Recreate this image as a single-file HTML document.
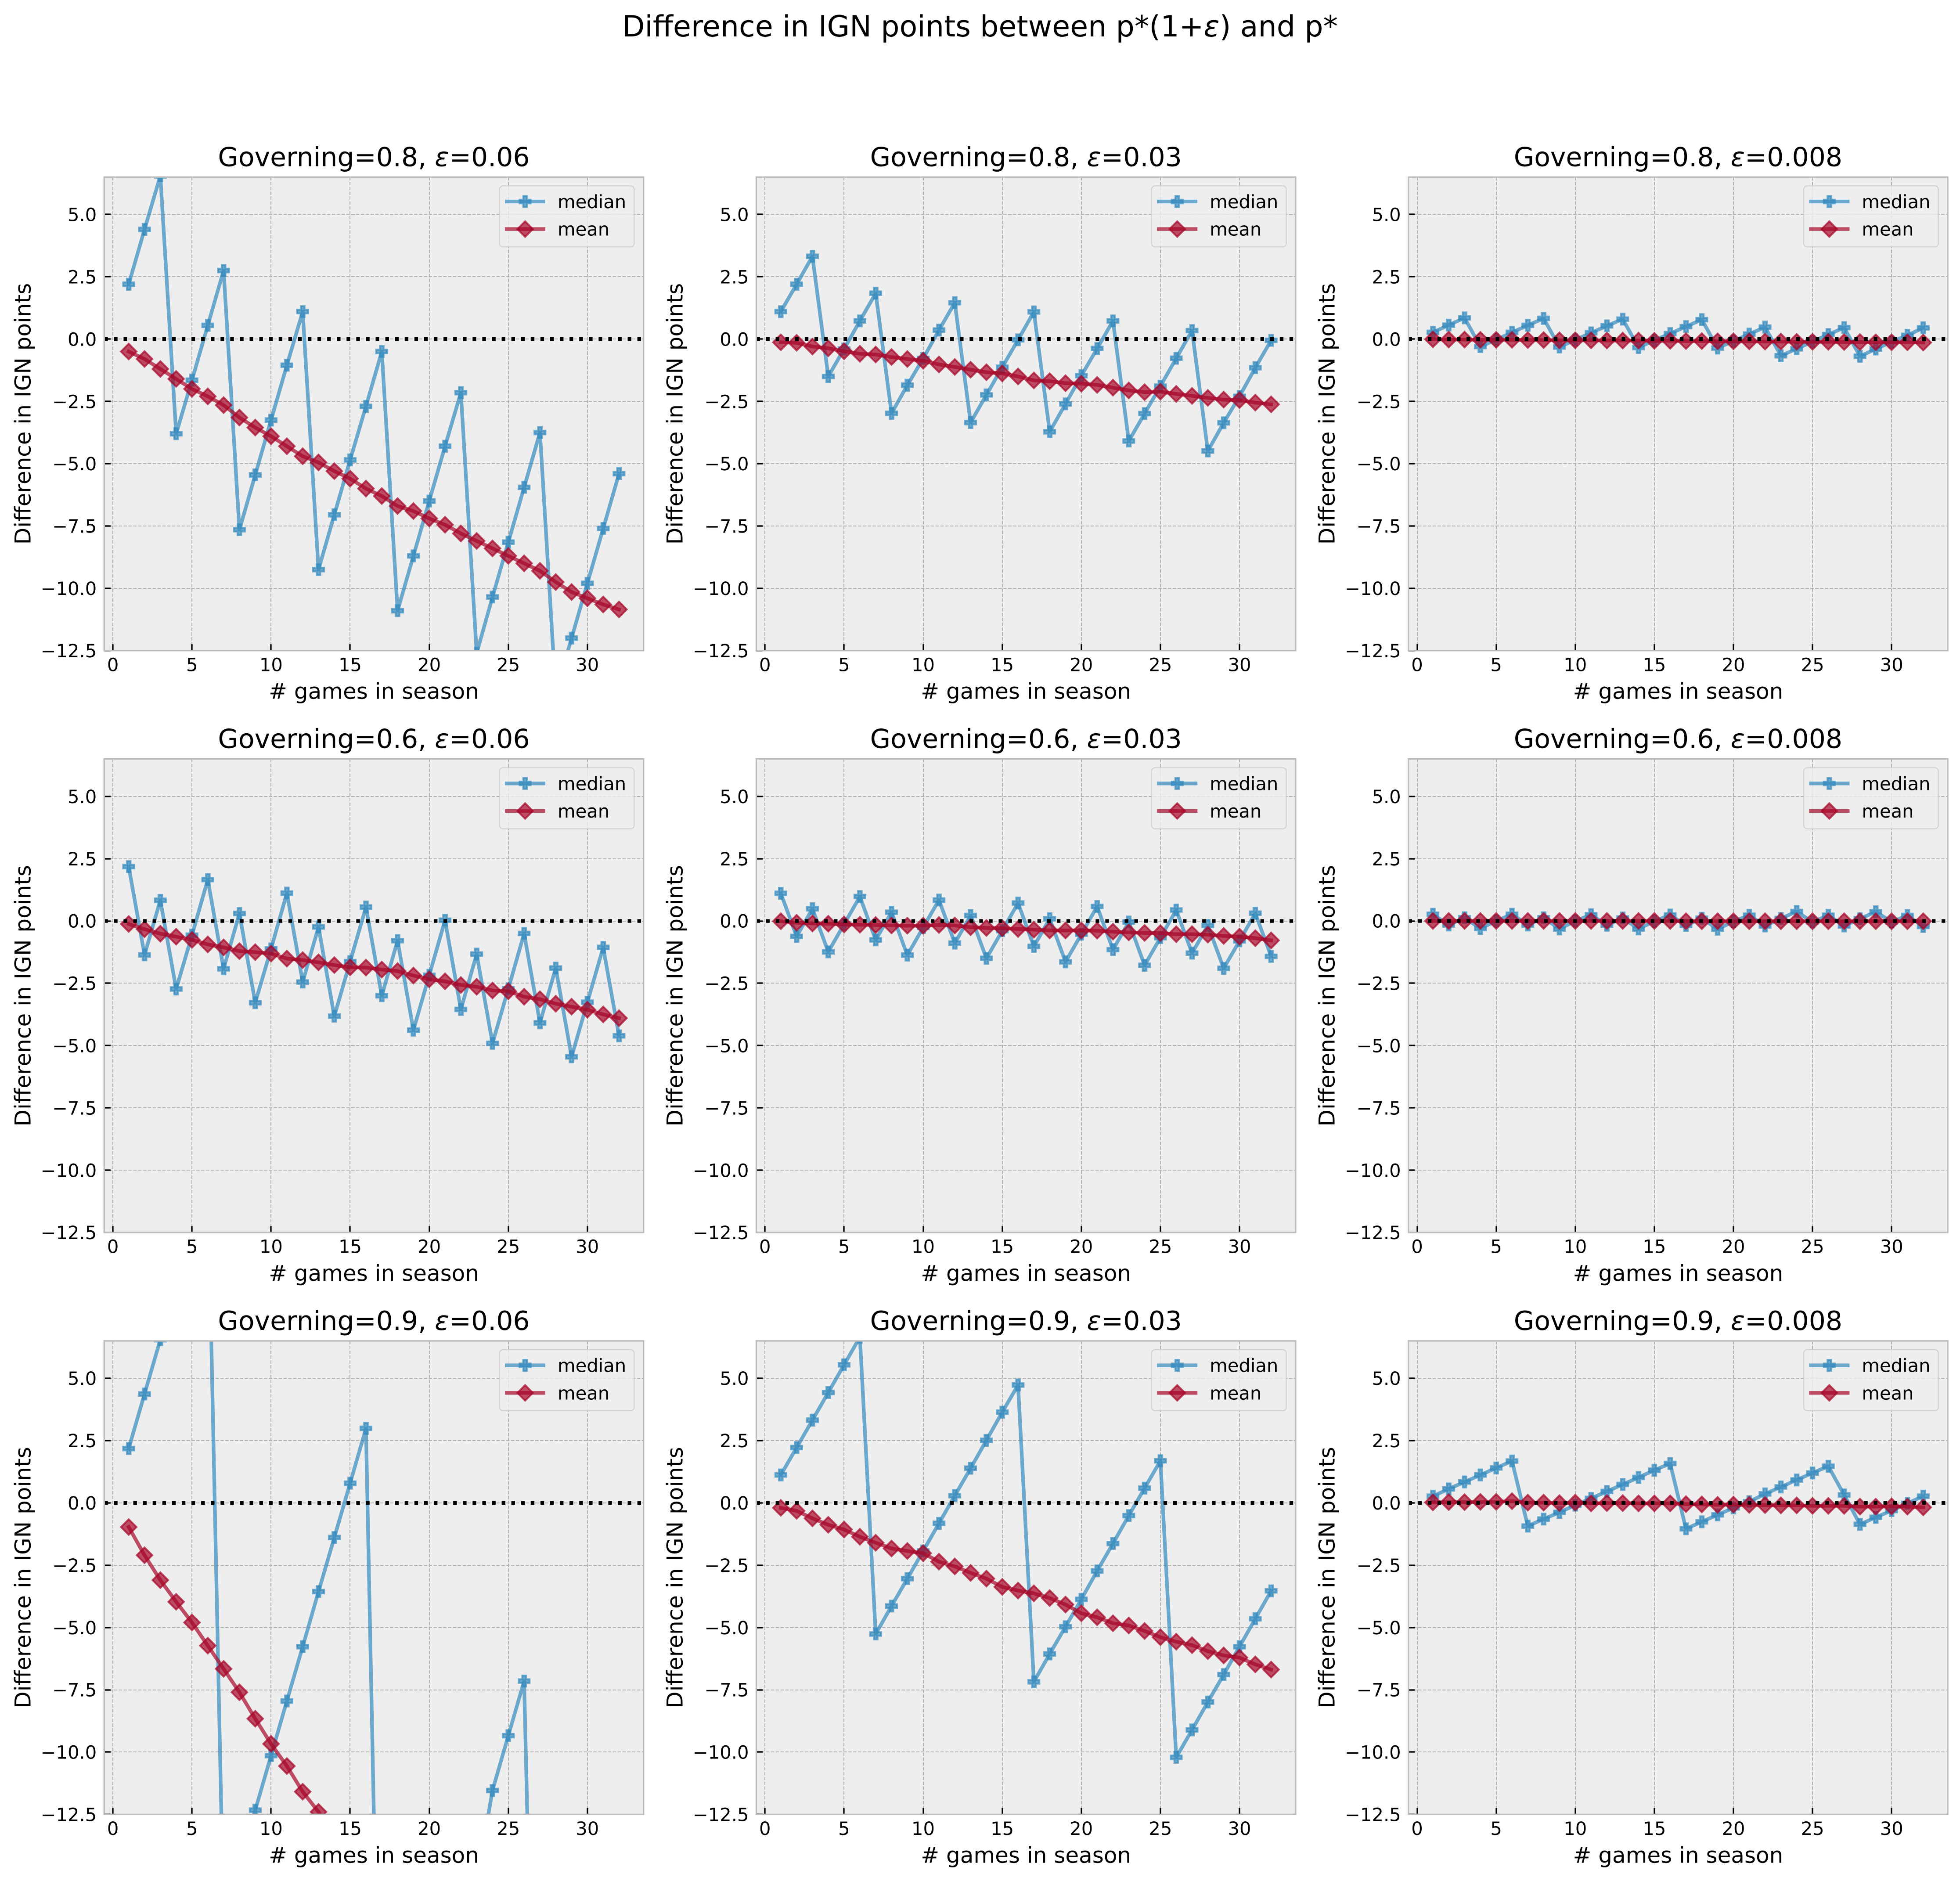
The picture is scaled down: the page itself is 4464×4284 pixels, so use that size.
<!DOCTYPE html>
<html lang="en">
<head>
<meta charset="utf-8">
<title>Difference in IGN points between p*(1+ε) and p*</title>
<style>
  html, body { margin: 0; padding: 0; background: #fff; }
  body { width: 4464px; height: 4284px; overflow: hidden; }
  svg { display: block; }
  text { font-family: "DejaVu Sans", "Liberation Sans", sans-serif; fill: #000; text-rendering: geometricPrecision; }
</style>
</head>
<body>
<svg id="figure" xmlns="http://www.w3.org/2000/svg" width="4464" height="4284" viewBox="0 0 4464 4284">
  <rect x="0" y="0" width="4464" height="4284" fill="#ffffff"></rect>
  <text x="2232" y="83" font-size="66.67" text-anchor="middle">Difference in IGN points between p*(1+<tspan font-style="italic">ε</tspan>) and p*</text>
</svg>
<script>
// ---- categories and ticks ----
const games = [1,2,3,4,5,6,7,8,9,10,11,12,13,14,15,16,17,18,19,20,21,22,23,24,25,26,27,28,29,30,31,32];
const xTicks = [0,5,10,15,20,25,30];
const xTickLabels = ['0','5','10','15','20','25','30'];
const yTicks = [-12.5,-10,-7.5,-5,-2.5,0,2.5,5];
const yTickLabels = ['\u221212.5','\u221210.0','\u22127.5','\u22125.0','\u22122.5','0.0','2.5','5.0'];
const xLimits = [-0.55,33.55];
const yLimits = [-12.5,6.5];
const governingLabels = ['0.8','0.6','0.9'];
const epsilonLabels = ['0.06','0.03','0.008'];
const seriesNames = ['median','mean'];

// ---- Governing=0.8 ----
const median_08_006 = [2.2,4.4,6.55,-3.8,-1.65,0.55,2.75,-7.65,-5.45,-3.25,-1.05,1.1,-9.25,-7.05,-4.85,-2.7,-0.5,-10.9,-8.7,-6.5,-4.3,-2.15,-12.6,-10.35,-8.15,-5.95,-3.75,-14.2,-12.0,-9.8,-7.6,-5.4];
const mean_08_006 = [-0.5,-0.8,-1.2,-1.6,-2.0,-2.3,-2.65,-3.15,-3.55,-3.9,-4.3,-4.7,-4.95,-5.3,-5.6,-6.0,-6.3,-6.7,-6.9,-7.2,-7.45,-7.8,-8.1,-8.4,-8.7,-9.0,-9.3,-9.75,-10.15,-10.4,-10.65,-10.85];
const median_08_003 = [1.1,2.2,3.32,-1.5,-0.4,0.73,1.84,-2.98,-1.85,-0.78,0.36,1.46,-3.35,-2.24,-1.13,-0.03,1.09,-3.72,-2.6,-1.47,-0.38,0.73,-4.09,-2.99,-1.89,-0.77,0.34,-4.49,-3.36,-2.3,-1.15,-0.05];
const mean_08_003 = [-0.13,-0.15,-0.3,-0.37,-0.49,-0.59,-0.62,-0.72,-0.8,-0.87,-1.02,-1.12,-1.23,-1.33,-1.38,-1.5,-1.66,-1.69,-1.77,-1.79,-1.84,-1.95,-2.06,-2.13,-2.11,-2.2,-2.28,-2.36,-2.43,-2.45,-2.55,-2.62];
const median_08_0008 = [0.27,0.56,0.85,-0.3,-0.03,0.27,0.55,0.83,-0.32,-0.03,0.25,0.53,0.8,-0.34,-0.05,0.22,0.5,0.78,-0.36,-0.08,0.2,0.48,-0.67,-0.39,-0.1,0.18,0.46,-0.69,-0.4,-0.11,0.15,0.45];
const mean_08_0008 = [-0.01,-0.02,-0.02,-0.03,-0.03,-0.03,-0.04,-0.04,-0.05,-0.05,-0.05,-0.06,-0.06,-0.06,-0.07,-0.07,-0.08,-0.08,-0.09,-0.09,-0.09,-0.1,-0.1,-0.11,-0.11,-0.11,-0.12,-0.12,-0.13,-0.13,-0.13,-0.14];

// ---- Governing=0.6 ----
const median_06_006 = [2.18,-1.36,0.83,-2.73,-0.57,1.66,-1.92,0.3,-3.28,-1.12,1.12,-2.45,-0.24,-3.82,-1.63,0.56,-3.0,-0.79,-4.38,-2.18,0.03,-3.55,-1.33,-4.91,-2.72,-0.5,-4.09,-1.89,-5.45,-3.26,-1.06,-4.61];
const mean_06_006 = [-0.12,-0.33,-0.51,-0.63,-0.76,-0.94,-1.06,-1.21,-1.25,-1.31,-1.51,-1.57,-1.66,-1.77,-1.86,-1.87,-1.95,-2.01,-2.19,-2.34,-2.42,-2.57,-2.64,-2.79,-2.82,-3.04,-3.14,-3.32,-3.44,-3.56,-3.75,-3.9];
const median_06_003 = [1.11,-0.62,0.49,-1.24,-0.13,0.98,-0.76,0.35,-1.37,-0.26,0.84,-0.89,0.22,-1.5,-0.39,0.72,-1.02,0.09,-1.64,-0.53,0.58,-1.15,-0.04,-1.78,-0.67,0.44,-1.29,-0.18,-1.9,-0.8,0.31,-1.42];
const mean_06_003 = [-0.01,-0.07,-0.1,-0.11,-0.14,-0.15,-0.16,-0.18,-0.19,-0.19,-0.16,-0.18,-0.25,-0.28,-0.29,-0.32,-0.35,-0.38,-0.38,-0.38,-0.39,-0.43,-0.46,-0.48,-0.49,-0.53,-0.53,-0.55,-0.6,-0.63,-0.69,-0.78];
const median_06_0008 = [0.27,-0.16,0.13,-0.3,0.0,0.27,-0.16,0.13,-0.32,0.0,0.25,-0.17,0.12,-0.32,-0.01,0.24,-0.18,0.11,-0.33,-0.02,0.23,-0.2,0.1,0.38,-0.04,0.23,-0.2,0.09,0.37,-0.04,0.22,-0.22];
const mean_06_0008 = [0.0,0.0,0.0,0.0,0.0,0.0,0.0,0.0,0.0,0.0,0.0,0.0,0.0,0.0,0.0,0.0,-0.01,-0.01,-0.01,-0.01,-0.01,-0.01,-0.01,-0.01,-0.01,-0.01,-0.01,-0.01,-0.01,-0.01,-0.01,-0.01];

// ---- Governing=0.9 ----
const median_09_006 = [2.18,4.37,6.55,8.8,11.0,13.2,-16.8,-14.6,-12.33,-10.14,-7.95,-5.77,-3.56,-1.39,0.79,2.99,-28.0,-26.0,-24.0,-21.8,-19.6,-17.4,-15.2,-11.54,-9.34,-7.15,-34.0,-32.0,-30.0,-28.0,-26.0,-24.0];
const mean_09_006 = [-0.97,-2.1,-3.1,-3.97,-4.8,-5.73,-6.66,-7.6,-8.66,-9.67,-10.56,-11.59,-12.4,-13.4,-14.3,-15.2,-16.1,-17.0,-17.9,-18.8,-19.7,-20.6,-21.5,-22.4,-23.3,-24.2,-25.1,-26.0,-26.9,-27.8,-28.7,-29.6];
const median_09_003 = [1.12,2.22,3.32,4.43,5.54,6.65,-5.26,-4.14,-3.04,-1.93,-0.82,0.29,1.39,2.51,3.64,4.73,-7.18,-6.06,-4.97,-3.87,-2.73,-1.63,-0.51,0.59,1.69,-10.21,-9.11,-7.99,-6.89,-5.77,-4.65,-3.53];
const mean_09_003 = [-0.2,-0.32,-0.62,-0.88,-1.07,-1.36,-1.6,-1.83,-1.93,-2.02,-2.36,-2.55,-2.81,-3.04,-3.37,-3.52,-3.63,-3.82,-4.08,-4.43,-4.59,-4.83,-4.92,-5.14,-5.39,-5.57,-5.71,-5.95,-6.12,-6.21,-6.48,-6.69];
const median_09_0008 = [0.27,0.56,0.84,1.12,1.4,1.68,-0.93,-0.65,-0.38,-0.09,0.18,0.46,0.74,1.02,1.31,1.58,-1.04,-0.76,-0.48,-0.2,0.05,0.36,0.64,0.92,1.2,1.47,0.32,-0.86,-0.58,-0.31,-0.02,0.27];
const mean_09_0008 = [0.02,0.03,0.03,0.04,0.04,0.07,0.01,0.01,-0.01,0.01,-0.02,-0.01,-0.01,-0.02,-0.02,-0.02,-0.05,-0.06,-0.08,-0.07,-0.08,-0.09,-0.1,-0.1,-0.12,-0.12,-0.12,-0.15,-0.15,-0.14,-0.15,-0.18];

const medianSeries = [
  [median_08_006, median_08_003, median_08_0008],
  [median_06_006, median_06_003, median_06_0008],
  [median_09_006, median_09_003, median_09_0008]
];
const meanSeries = [
  [mean_08_006, mean_08_003, mean_08_0008],
  [mean_06_006, mean_06_003, mean_06_0008],
  [mean_09_006, mean_09_003, mean_09_0008]
];

// ---- drawing ----
const SVGNS = 'http://www.w3.org/2000/svg';
const figure = document.getElementById('figure');
const AX_W = 1228.4, AX_H = 1078.4;
const AX_LEFT0 = 237.3, AX_TOP0 = 403.3, COL_STEP = 1485.2, ROW_STEP = 1325.3;
const BLUE = '#348ABD', RED = '#A60628';
const MS = 25, MEW = 4.17, LW = 8.33;
const CLIP_MARGIN = 30;

function make(parent, tag, attrs, text) {
  const el = document.createElementNS(SVGNS, tag);
  for (const k in attrs) el.setAttribute(k, attrs[k]);
  if (text !== undefined) el.textContent = text;
  parent.appendChild(el);
  return el;
}
function plusPath(cx, cy) {
  const a = MS / 2, b = MS / 6;
  const pts = [[-b,-a],[b,-a],[b,-b],[a,-b],[a,b],[b,b],[b,a],[-b,a],[-b,b],[-a,b],[-a,-b],[-b,-b]];
  return 'M' + pts.map(p => (cx + p[0]).toFixed(2) + ' ' + (cy + p[1]).toFixed(2)).join('L') + 'Z';
}
function diamondPath(cx, cy) {
  const a = MS * Math.SQRT1_2;
  return 'M' + cx + ' ' + (cy - a) + 'L' + (cx + a) + ' ' + cy + 'L' + cx + ' ' + (cy + a) + 'L' + (cx - a) + ' ' + cy + 'Z';
}
function markerStyle(color) {
  return { fill: color, 'fill-opacity': 0.7, stroke: color, 'stroke-opacity': 0.7, 'stroke-width': MEW, 'stroke-linejoin': 'miter' };
}

// Builds a polyline path cut to the vertical band [yMin, yMax], so off-range data adds no geometry outside the axes.
function clippedLinePath(px, py, yMin, yMax) {
  let d = '';
  let penDown = false;
  for (let i = 0; i < px.length - 1; i++) {
    const x0 = px[i], y0 = py[i], x1 = px[i + 1], y1 = py[i + 1];
    if ((y0 < yMin && y1 < yMin) || (y0 > yMax && y1 > yMax)) { penDown = false; continue; }
    const at = y => x0 + (y - y0) / (y1 - y0) * (x1 - x0);
    let ax = x0, ay = y0, bx = x1, by = y1;
    if (ay < yMin) { ax = at(yMin); ay = yMin; } else if (ay > yMax) { ax = at(yMax); ay = yMax; }
    const startCut = (ax !== x0 || ay !== y0);
    if (by < yMin) { bx = at(yMin); by = yMin; } else if (by > yMax) { bx = at(yMax); by = yMax; }
    const endCut = (bx !== x1 || by !== y1);
    if (!penDown || startCut) d += 'M' + ax.toFixed(2) + ' ' + ay.toFixed(2);
    d += 'L' + bx.toFixed(2) + ' ' + by.toFixed(2);
    penDown = !endCut;
  }
  return d;
}

function drawSeries(parent, xFn, yFn, values, color, pathFn, name, yMin, yMax) {
  const px = games.map(g => xFn(g));
  const py = games.map((g, i) => yFn(values[i]));
  const line = make(parent, 'path', { d: clippedLinePath(px, py, yMin, yMax), fill: 'none', stroke: color, 'stroke-opacity': 0.7, 'stroke-width': LW, 'stroke-linejoin': 'round', 'stroke-linecap': 'square' });
  
  
  games.forEach((g, i) => {
    if (py[i] < yMin || py[i] > yMax) return;
    const m = make(parent, 'path', Object.assign({ d: pathFn(px[i], py[i]) }, markerStyle(color)));
    
    
  });
}

function drawPanel(r, c) {
  const left = AX_LEFT0 + c * COL_STEP, top = AX_TOP0 + r * ROW_STEP;
  const right = left + AX_W, bottom = top + AX_H;
  const xScale = v => left + (v - xLimits[0]) / (xLimits[1] - xLimits[0]) * AX_W;
  const yScale = v => bottom - (v - yLimits[0]) / (yLimits[1] - yLimits[0]) * AX_H;
  const id = 'clip-' + r + '-' + c;

  const g = make(figure, 'g', {});
  
  

  const defs = make(g, 'defs', {});
  const cp = make(defs, 'clipPath', { id: id });
  make(cp, 'rect', { x: left, y: top, width: AX_W, height: AX_H });

  const bg = make(g, 'rect', { x: left, y: top, width: AX_W, height: AX_H, fill: '#eeeeee' });
  
  

  // grid
  xTicks.forEach(t => {
    const x = Math.round(xScale(t));
    const gl = make(g, 'line', { x1: x, x2: x, y1: top, y2: bottom, stroke: '#b2b2b2', 'stroke-width': 2.08, 'stroke-dasharray': '7.7 3.33' });
    
    
  });
  yTicks.forEach(t => {
    const y = Math.round(yScale(t));
    const gl = make(g, 'line', { x1: left, x2: right, y1: y, y2: y, stroke: '#b2b2b2', 'stroke-width': 2.08, 'stroke-dasharray': '7.7 3.33' });
    
    
  });

  // series
  const clipped = make(g, 'g', { 'clip-path': 'url(#' + id + ')' });
  
  
  drawSeries(clipped, xScale, yScale, medianSeries[r][c], BLUE, plusPath, 'median', top - CLIP_MARGIN, bottom + CLIP_MARGIN);
  drawSeries(clipped, xScale, yScale, meanSeries[r][c], RED, diamondPath, 'mean', top - CLIP_MARGIN, bottom + CLIP_MARGIN);

  // zero reference line
  const z = yScale(0);
  const zero = make(clipped, 'line', { x1: left, x2: right, y1: z, y2: z, stroke: '#000000', 'stroke-width': 8.33, 'stroke-dasharray': '8.33 13.75' });
  
  

  // ticks and tick labels
  xTicks.forEach((t, i) => {
    const x = Math.round(xScale(t));
    const tk = make(g, 'line', { x1: x, x2: x, y1: bottom, y2: bottom - 14.6, stroke: '#000', 'stroke-width': 3.33 });
    
    
    const lb = make(g, 'text', { x: xScale(t), y: bottom + 46.6, 'font-size': 41.67, 'text-anchor': 'middle' }, xTickLabels[i]);
    
    
  });
  yTicks.forEach((t, i) => {
    const y = Math.round(yScale(t));
    const tk = make(g, 'line', { x1: left, x2: left + 14.6, y1: y, y2: y, stroke: '#000', 'stroke-width': 3.33 });
    
    
    const lb = make(g, 'text', { x: left - 17, y: yScale(t) + 15.2, 'font-size': 41.67, 'text-anchor': 'end' }, yTickLabels[i]);
    
    
  });

  // frame
  const frame = make(g, 'rect', { x: left, y: top, width: AX_W, height: AX_H, fill: 'none', stroke: '#bcbcbc', 'stroke-width': 3.33 });
  
  

  // title and axis labels
  const title = make(g, 'text', { x: left + AX_W / 2, y: top - 25, 'font-size': 60, 'text-anchor': 'middle' });
  
  
  make(title, 'tspan', {}, 'Governing=' + governingLabels[r] + ', ');
  make(title, 'tspan', { 'font-style': 'italic' }, '\u03b5');
  make(title, 'tspan', {}, '=' + epsilonLabels[c]);

  const xl = make(g, 'text', { x: left + AX_W / 2, y: bottom + 110, 'font-size': 50, 'text-anchor': 'middle' }, '# games in season');
  
  

  const ylx = left - 168, yly = top + AX_H / 2;
  const yl = make(g, 'text', { x: ylx, y: yly, 'font-size': 50, 'text-anchor': 'middle', transform: 'rotate(-90 ' + ylx + ' ' + yly + ')' }, 'Difference in IGN points');
  
  

  // legend
  const lg = make(g, 'g', {});
  
  
  const box = make(lg, 'rect', { x: right - 328, y: top + 20, width: 306.6, height: 139, rx: 8, ry: 8, fill: '#eeeeee', 'fill-opacity': 0.8, stroke: '#cccccc', 'stroke-opacity': 0.8, 'stroke-width': 2.5 });
  
  
  const colors = [BLUE, RED], shapes = [plusPath, diamondPath], rowY = [top + 55.7, top + 118.4];
  seriesNames.forEach((nm, i) => {
    const ll = make(lg, 'line', { x1: right - 315.7, x2: right - 223.7, y1: rowY[i], y2: rowY[i], stroke: colors[i], 'stroke-opacity': 0.7, 'stroke-width': LW });
    
    
    const lm = make(lg, 'path', Object.assign({ d: shapes[i](right - 269.7, rowY[i]) }, markerStyle(colors[i])));
    
    
    const lt = make(lg, 'text', { x: right - 195.7, y: rowY[i] + 15, 'font-size': 41.67 }, nm);
    
    
  });
}

for (let r = 0; r < 3; r++) {
  for (let c = 0; c < 3; c++) {
    drawPanel(r, c);
  }
}
</script>
</body>
</html>
